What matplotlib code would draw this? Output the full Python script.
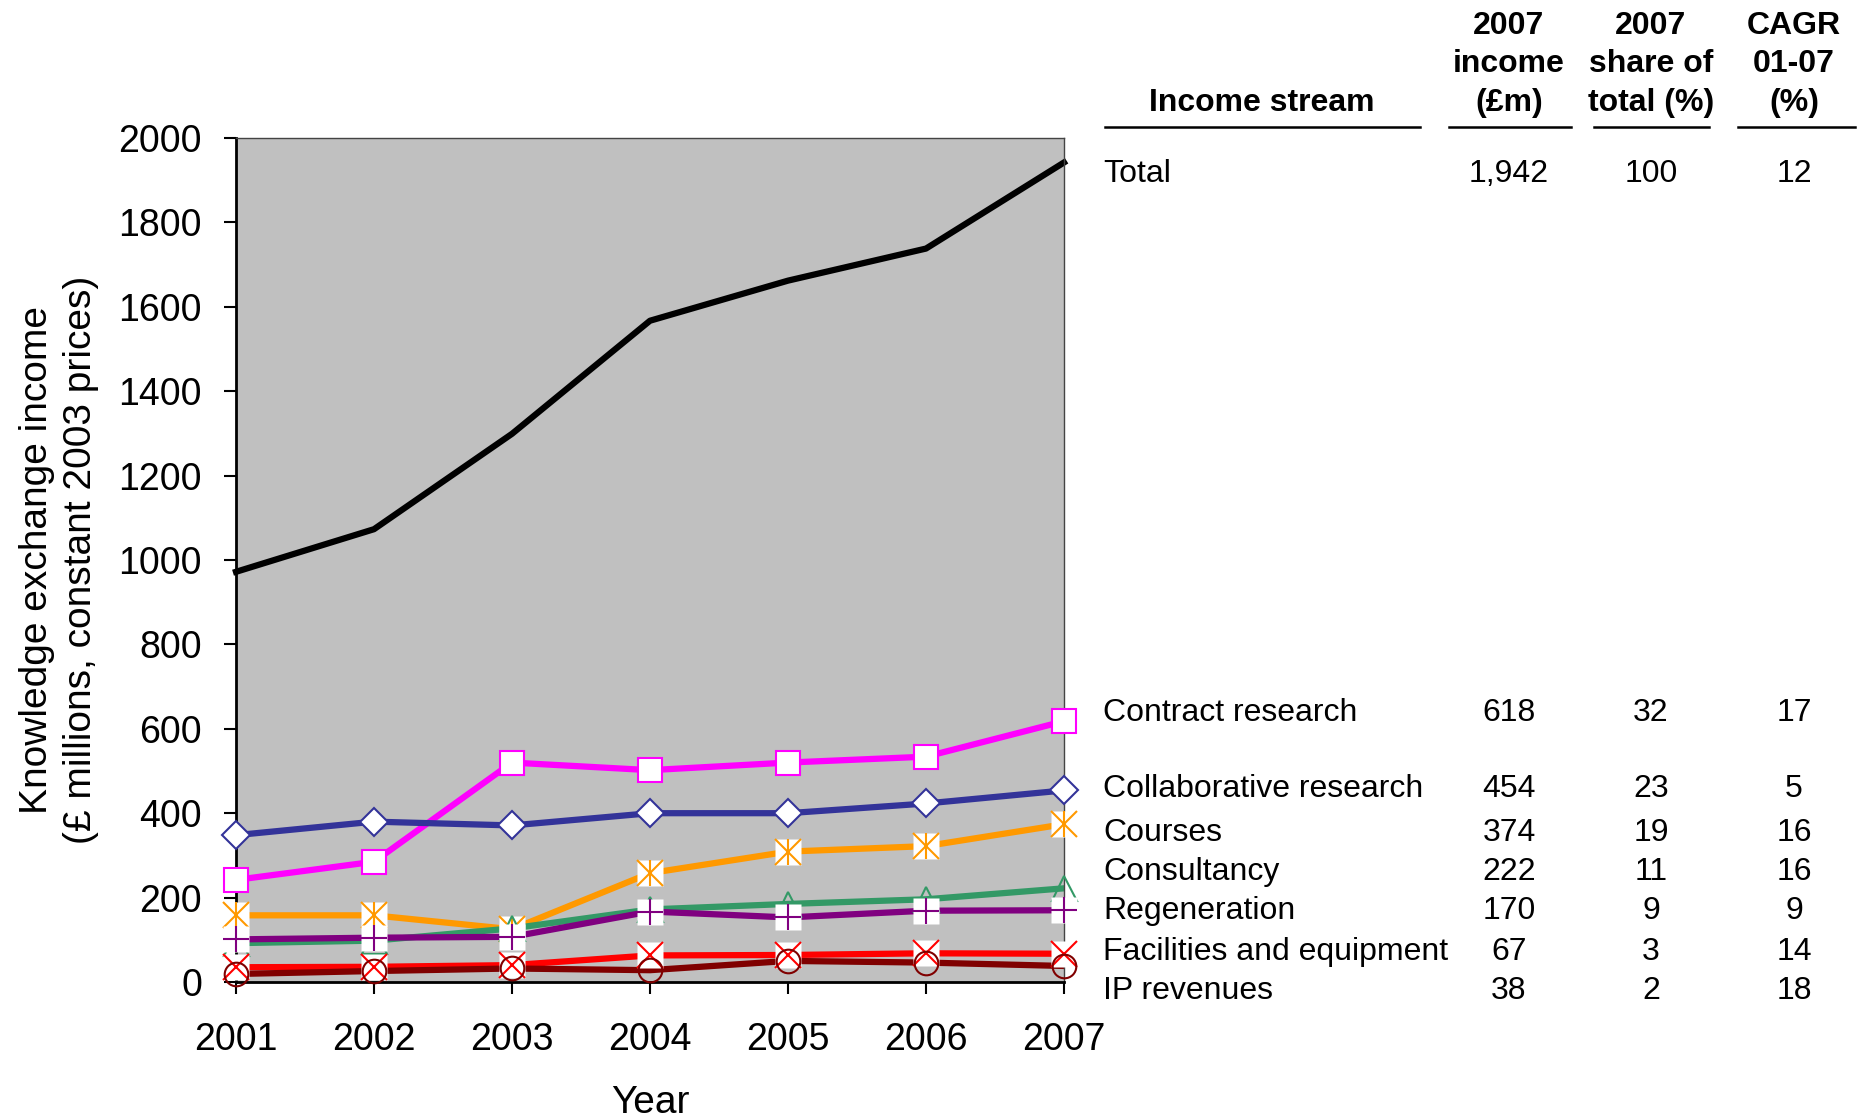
import matplotlib
matplotlib.use("Agg")
import matplotlib.pyplot as plt
from matplotlib.lines import Line2D

plt.rcParams['font.family'] = ['Liberation Sans', 'DejaVu Sans']

# data (GBP millions, constant 2003 prices)
years = [2001, 2002, 2003, 2004, 2005, 2006, 2007]
total = [972, 1073, 1299, 1567, 1662, 1738, 1942]
contract = [242, 285, 520, 502, 520, 534, 618]
collaborative = [348, 380, 371, 400, 400, 423, 454]
courses = [158, 158, 125, 258, 309, 322, 374]
consultancy = [92, 98, 127, 172, 185, 196, 222]
regeneration = [101, 105, 107, 167, 153, 169, 170]
facilities = [35, 36, 40, 63, 64, 68, 67]
ip_revenues = [19, 26, 32, 28, 50, 46, 38]

# table on the right
streams = ["Total", "Contract research", "Collaborative research", "Courses",
           "Consultancy", "Regeneration", "Facilities and equipment", "IP revenues"]
income_2007 = ["1,942", "618", "454", "374", "222", "170", "67", "38"]
share_2007 = ["100", "32", "23", "19", "11", "9", "3", "2"]
cagr = ["12", "17", "5", "16", "16", "9", "14", "18"]
headers = ["Income stream", "2007\nincome\n(£m)", "2007\nshare of\ntotal (%)", "CAGR\n01-07\n(%)"]

W, H = 1858, 1118
fig = plt.figure(figsize=(W / 100, H / 100), dpi=100)
ax = fig.add_axes([236 / W, 1 - 982 / H, (1064 - 236) / W, (982 - 138) / H])
ax.set_facecolor('#C0C0C0')

lw = 4.5
ax.plot(years, total, color='black', lw=lw, zorder=2, clip_on=False)

# lines first
series = [
    (contract, '#FF00FF'),
    (collaborative, '#333399'),
    (courses, '#FF9900'),
    (consultancy, '#339966'),
    (regeneration, '#800080'),
    (facilities, '#FF0000'),
    (ip_revenues, '#800000'),
]
for vals, col in series:
    ax.plot(years, vals, color=col, lw=lw, zorder=2)

# markers
mk = dict(ls='none', zorder=5, clip_on=False)
ax.plot(years, contract, marker='s', ms=17, mfc='white', mec='#FF00FF', mew=1.5, **mk)
ax.plot(years, collaborative, marker='D', ms=14, mfc='white', mec='#333399', mew=1.5, **mk)
# courses: asterisk on white box
ax.plot(years, courses, marker='s', ms=19, mfc='white', mec='none', **mk)
ax.plot(years, courses, marker='x', ms=19, mec='#FF9900', mew=1.5, **mk)
ax.plot(years, courses, marker='|', ms=19, mec='#FF9900', mew=1.5, **mk)
ax.plot(years, consultancy, marker='^', ms=18, mfc='none', mec='#339966', mew=1.5, **mk)
ax.plot(years, regeneration, marker='s', ms=19, mfc='white', mec='none', **mk)
ax.plot(years, regeneration, marker='+', ms=19, mec='#800080', mew=1.5, **mk)
ax.plot(years, facilities, marker='s', ms=19, mfc='white', mec='none', **mk)
ax.plot(years, facilities, marker='x', ms=19, mec='#FF0000', mew=1.5, **mk)
ax.plot(years, ip_revenues, marker='o', ms=17, mfc='none', mec='#800000', mew=1.5, **mk)

ax.set_xlim(2001, 2007)
ax.set_ylim(0, 2000)
ax.set_xticks(years)
ax.set_yticks(range(0, 2001, 200))
ax.tick_params(axis='both', direction='out', length=8.5, width=1.5, labelsize=27, colors='black')
ax.tick_params(axis='y', pad=16)
ax.tick_params(axis='x', pad=20)
for sp in ['left', 'bottom']:
    ax.spines[sp].set_linewidth(2)
    ax.spines[sp].set_color('black')
for sp in ['top', 'right']:
    ax.spines[sp].set_linewidth(1)
    ax.spines[sp].set_color('#444444')
for m in ax.spines.values():
    m.set_zorder(4)

ax.set_xlabel("Year", fontsize=28, labelpad=20)
ax.set_ylabel("Knowledge exchange income\n(£ millions, constant 2003 prices)", fontsize=28,
              labelpad=14, linespacing=1.28)

# table
def fx(x):
    return x / W

def fy(y):
    return 1 - y / H

col_x = [1103, 1509, 1651, 1794]
line_spans = [(1105, 1420), (1449, 1571), (1594, 1709), (1738, 1855)]
row_y = [174, 713, 789, 833, 872, 911, 952, 991]
head_y = [26, 64, 103]

fig.text(fx(1262), fy(head_y[2]), headers[0], fontsize=23, fontweight='bold', ha='center', va='center')
for i in range(1, 4):
    for j, part in enumerate(headers[i].split("\n")):
        fig.text(fx(col_x[i]), fy(head_y[j]), part, fontsize=23, fontweight='bold',
                 ha='center', va='center')
for x0, x1 in line_spans:
    fig.add_artist(Line2D([fx(x0), fx(x1)], [fy(127), fy(127)], color='black', lw=1.8,
                          transform=fig.transFigure))

for i, name in enumerate(streams):
    y = fy(row_y[i])
    fig.text(fx(col_x[0]), y, name, fontsize=23, ha='left', va='center')
    fig.text(fx(col_x[1]), y, income_2007[i], fontsize=23, ha='center', va='center')
    fig.text(fx(col_x[2]), y, share_2007[i], fontsize=23, ha='center', va='center')
    fig.text(fx(col_x[3]), y, cagr[i], fontsize=23, ha='center', va='center')

fig.savefig("out.png", dpi=100)
